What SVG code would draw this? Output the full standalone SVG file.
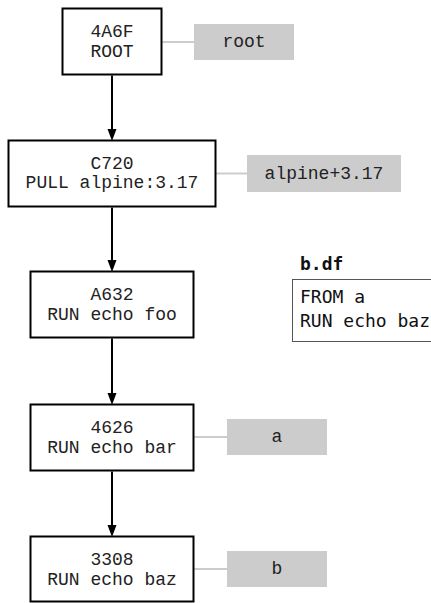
<svg xmlns="http://www.w3.org/2000/svg" width="431" height="603" viewBox="0 0 431 603">
<style>
.node rect{fill:#fff;stroke:#000;stroke-width:2}
.node text,.tag text{font-family:"Liberation Mono","Courier New",monospace;font-size:18px;fill:#222;text-anchor:middle}
.tag rect{fill:#cccccc}
.tagline{stroke:#cccccc;stroke-width:2}
.edge{stroke:#000;stroke-width:2}
.df text{font-family:"DejaVu Sans Mono",monospace;font-size:18px;fill:#111}
</style>
<defs>
<marker id="ah" markerWidth="10" markerHeight="12" refX="5" refY="11" orient="auto-start-reverse" markerUnits="userSpaceOnUse" viewBox="0 0 10 12">
<path d="M0,0 L10,0 L5,12 Z" fill="#000"/>
</marker>
</defs>
<g id="connectors">
<line class="edge" x1="112" y1="75.5" x2="112" y2="129.5"/>
<path d="M107.5,129 L116.5,129 L112,141 Z" fill="#000"/>
<line class="edge" x1="112" y1="207.5" x2="112" y2="260.5"/>
<path d="M107.5,260 L116.5,260 L112,272 Z" fill="#000"/>
<line class="edge" x1="112" y1="338.5" x2="112" y2="393.5"/>
<path d="M107.5,393 L116.5,393 L112,405 Z" fill="#000"/>
<line class="edge" x1="112" y1="471.5" x2="112" y2="525.5"/>
<path d="M107.5,525 L116.5,525 L112,537 Z" fill="#000"/>
<line class="tagline" x1="162" y1="42" x2="194" y2="42"/>
<line class="tagline" x1="216" y1="173.5" x2="247" y2="173.5"/>
<line class="tagline" x1="194" y1="437" x2="227" y2="437"/>
<line class="tagline" x1="194" y1="569" x2="227" y2="569"/>
</g>
<g id="node-4A6F" class="node">
<rect x="62.5" y="8.5" width="99" height="66"/>
<text x="112" y="37">4A6F</text>
<text x="112" y="56.5">ROOT</text>
</g>
<g id="node-C720" class="node">
<rect x="8.5" y="140.5" width="207" height="66"/>
<text x="112" y="168.5">C720</text>
<text x="112" y="188">PULL alpine:3.17</text>
</g>
<g id="node-A632" class="node">
<rect x="30.5" y="271.5" width="163" height="66"/>
<text x="112" y="300">A632</text>
<text x="112" y="319.5">RUN echo foo</text>
</g>
<g id="node-4626" class="node">
<rect x="30.5" y="404.5" width="163" height="66"/>
<text x="112" y="433">4626</text>
<text x="112" y="452.5">RUN echo bar</text>
</g>
<g id="node-3308" class="node">
<rect x="30.5" y="536.5" width="163" height="65"/>
<text x="112" y="565">3308</text>
<text x="112" y="584.5">RUN echo baz</text>
</g>
<g id="tag-root" class="tag">
<rect x="194" y="24" width="100" height="36"/>
<text x="244" y="47">root</text>
</g>
<g id="tag-alpine" class="tag">
<rect x="247" y="155" width="154" height="37"/>
<text x="324" y="178.5">alpine+3.17</text>
</g>
<g id="tag-a" class="tag">
<rect x="227" y="419" width="100" height="36"/>
<text x="277" y="442">a</text>
</g>
<g id="tag-b" class="tag">
<rect x="227" y="551" width="100" height="36"/>
<text x="277" y="574">b</text>
</g>
<g id="dockerfile-b" class="df">
<text x="300" y="270" font-weight="bold">b.df</text>
<rect x="292.5" y="279.5" width="150" height="62" fill="#fff" stroke="#555" stroke-width="1"/>
<text x="300" y="303">FROM a</text>
<text x="300" y="327">RUN echo baz</text>
</g>
</svg>
